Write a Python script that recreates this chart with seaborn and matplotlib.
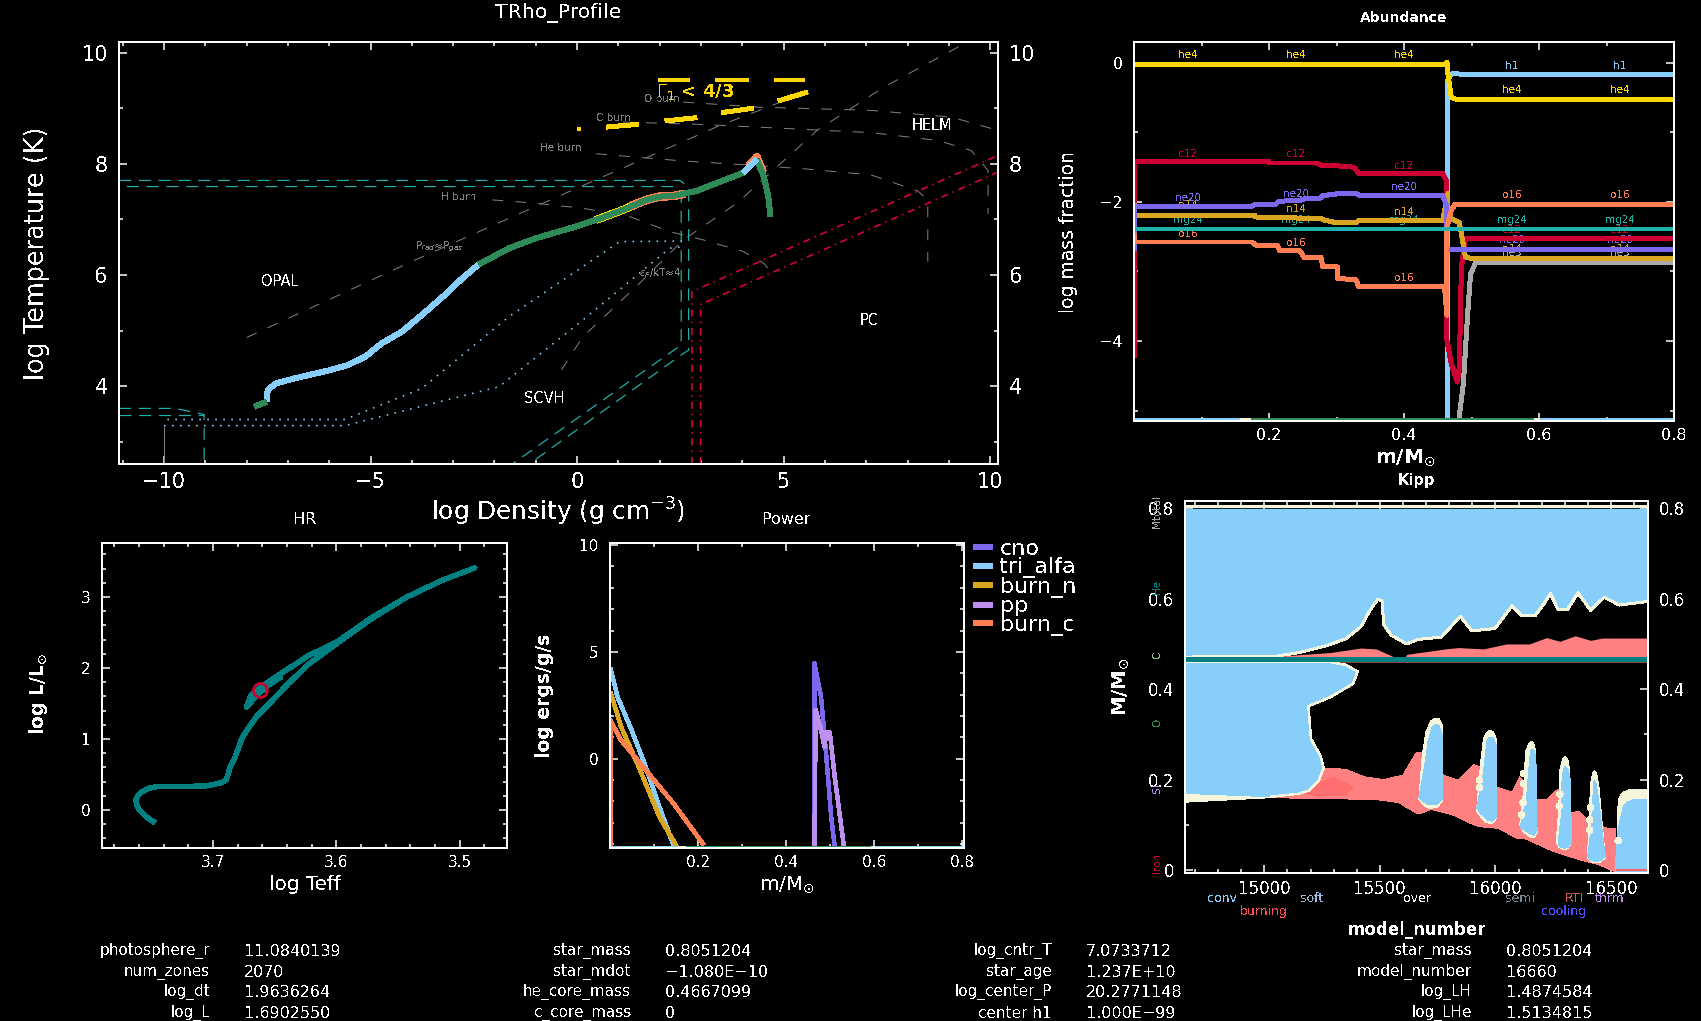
import numpy as np
import matplotlib
matplotlib.use("Agg")
import matplotlib.pyplot as plt
from matplotlib.ticker import MultipleLocator, FuncFormatter
import seaborn as sns

W, H = 1701, 1021

# colours used by the pgstar panels
BLUE = "#87CEFA"
GOLD = "#FFD700"
RED = "#CC0033"
PURPLE = "#7B68EE"
GOLDEN = "#DAA520"
SEATEAL = "#20B2AA"
CORAL = "#FF7F50"
LGRAY = "#A9A9A9"
GREEN = "#2E8B57"
TEAL = "#008080"
CREAM = "#F5F5DC"
VIOLET = "#BF8FEF"
PINK = "#FF8080"

# ---- TRho panel ----
track_env_in_x = [-7.81, -7.52]
track_env_in_y = [3.63, 3.72]
track_blue_x = [-7.52, -7.49, -7.29, -6.84, -6.03, -5.54, -5.13, -4.73, -4.24, -3.76, -3.11, -2.78, -2.38]
track_blue_y = [3.72, 3.93, 4.05, 4.14, 4.28, 4.38, 4.53, 4.77, 4.98, 5.28, 5.70, 5.94, 6.19]
track_green_x = [-2.38, -1.65, -1.0, -0.03, 0.46, 1.11, 1.68, 2.0, 2.33, 2.89, 3.54, 4.03]
track_green_y = [6.19, 6.48, 6.66, 6.87, 6.99, 7.17, 7.35, 7.41, 7.42, 7.51, 7.70, 7.84]
track_tip_x = [4.03, 4.35]
track_tip_y = [7.84, 8.08]
track_core_x = [4.35, 4.52, 4.63, 4.68]
track_core_y = [8.08, 7.77, 7.41, 7.05]
burn_yellow_x = [0.46, 1.11, 1.68]
burn_yellow_y = [6.99, 7.17, 7.35]
burn_coral_x = [1.3, 1.68, 2.0, 2.33, 2.6]
burn_coral_y = [7.24, 7.35, 7.41, 7.42, 7.46]
tip_coral_x = [4.15, 4.35, 4.5]
tip_coral_y = [7.95, 8.12, 7.85]

h_burn_x = [-2.05, -1.0, 0.14, 1.27, 2.24, 3.06, 4.03, 4.52, 4.76]
h_burn_y = [7.35, 7.29, 7.20, 7.05, 6.78, 6.63, 6.42, 6.21, 6.0]
he_burn_x = [0.46, 2.57, 3.87, 5.49, 7.11, 8.25, 8.49, 8.49]
he_burn_y = [8.18, 8.05, 7.99, 7.91, 7.80, 7.51, 7.35, 6.24]
c_burn_x = [1.11, 2.89, 4.35, 7.11, 8.73, 9.54, 9.95, 9.95]
c_burn_y = [8.75, 8.71, 8.66, 8.56, 8.42, 8.24, 7.88, 7.10]
o_burn_x = [2.57, 4.35, 7.11, 9.06, 10.19]
o_burn_y = [9.11, 9.02, 8.96, 8.84, 8.60]
prad_x = [-8.0, -3.92, -0.19, 3.46, 5.56]
prad_y = [4.875, 6.27, 7.50, 8.69, 9.29]
psi_x = [-0.38, 0.14, 1.43, 2.57, 3.87, 5.81, 7.43, 9.3]
psi_y = [4.29, 4.89, 5.79, 6.63, 7.29, 8.6, 9.38, 10.13]

opal_a_x = [-11.09, 2.49, 2.70, 2.70, 2.52, -1.16]
opal_a_y = [7.70, 7.70, 7.58, 4.65, 4.56, 2.6]
opal_b_x = [-10.9, 2.33, 2.52, 2.52, -1.57]
opal_b_y = [7.59, 7.59, 7.47, 4.74, 2.6]
opal_c_x = [-11.09, -9.72, -9.03, -9.03]
opal_c_y = [3.6, 3.6, 3.49, 2.6]
opal_d_x = [-11.09, -9.03]
opal_d_y = [3.49, 3.49]

scvh_a_x = [-9.92, -5.62, -3.76, -1.65, 1.03, 2.57]
scvh_a_y = [3.40, 3.40, 3.96, 5.25, 6.60, 6.61]
scvh_b_x = [-10.0, -5.62, -1.89, 0.14, 2.24, 2.57]
scvh_b_y = [3.29, 3.29, 3.99, 5.19, 6.48, 6.51]
scvh_edge_x = [-10.0, -10.0]
scvh_edge_y = [3.29, 2.6]

pc_a_x = [2.78, 2.78, 10.19]
pc_a_y = [2.6, 5.70, 8.15]
pc_b_x = [2.99, 2.99, 10.19]
pc_b_y = [2.6, 5.47, 7.85]

gamma_x = [[0.0, 0.10], [0.72, 1.48], [2.13, 2.90], [3.50, 4.27], [4.87, 5.58],
           [1.97, 2.74], [3.34, 4.15], [4.76, 5.52]]
gamma_y = [[8.62, 8.62], [8.66, 8.71], [8.77, 8.83], [8.92, 9.0], [9.13, 9.29],
           [9.50, 9.50], [9.50, 9.50], [9.50, 9.50]]

# ---- Abundance panel ----
h1_x = [0.465, 0.465, 0.47, 0.8]
h1_y = [-5.15, -0.25, -0.16, -0.165]
he4_x = [0.0, 0.46, 0.4637, 0.465, 0.47, 0.476, 0.8]
he4_y = [-0.02, -0.02, 0.01, -0.15, -0.49, -0.52, -0.52]
he3_x = [0.481, 0.488, 0.494, 0.4986, 0.5066, 0.8]
he3_y = [-5.15, -4.61, -3.65, -3.03, -2.87, -2.87]
c12_x = [0.0005, 0.0005, 0.2, 0.201, 0.27, 0.277, 0.30, 0.326, 0.333, 0.4575, 0.4637, 0.4637, 0.47, 0.479, 0.482, 0.485, 0.491, 0.8]
c12_y = [-4.23, -1.42, -1.42, -1.44, -1.44, -1.47, -1.48, -1.50, -1.59, -1.59, -1.71, -3.99, -4.33, -4.59, -4.37, -2.94, -2.53, -2.52]
ne20_x = [0.0005, 0.0005, 0.172, 0.1785, 0.209, 0.215, 0.246, 0.252, 0.274, 0.28, 0.304, 0.329, 0.335, 0.4575, 0.4637, 0.4637, 0.8]
ne20_y = [-2.70, -2.07, -2.07, -2.04, -2.04, -1.99, -1.976, -1.957, -1.957, -1.909, -1.88, -1.88, -1.909, -1.909, -2.07, -2.686, -2.68]
n14_x = [0.0005, 0.0005, 0.1785, 0.18, 0.277, 0.283, 0.30, 0.329, 0.333, 0.4575, 0.465, 0.465, 0.482, 0.485, 0.491, 0.5, 0.8]
n14_y = [-2.02, -2.19, -2.19, -2.216, -2.24, -2.264, -2.30, -2.30, -2.264, -2.264, -1.88, -2.216, -2.30, -2.456, -2.79, -2.815, -2.815]
mg24_x = [0.0, 0.8]
mg24_y = [-2.39, -2.39]
o16_x = [0.0005, 0.0005, 0.175, 0.18, 0.212, 0.2165, 0.246, 0.252, 0.277, 0.28, 0.302, 0.302, 0.329, 0.333, 0.46, 0.4637, 0.4637, 0.47, 0.476, 0.8]
o16_y = [-2.456, -2.576, -2.576, -2.62, -2.62, -2.705, -2.705, -2.80, -2.80, -2.935, -2.935, -3.10, -3.12, -3.22, -3.22, -3.63, -2.36, -2.12, -2.03, -2.03]

label_x = [0.08, 0.24, 0.40, 0.56, 0.72]
he4_lab = [0.11, 0.11, 0.11, -0.39, -0.39]
c12_lab = [-1.31, -1.31, -1.48, -2.41, -2.41]
ne20_lab = [-1.94, -1.88, -1.78, -2.55, -2.55]
n14_lab = [-2.05, -2.1, -2.15, -2.67, -2.67]
mg24_lab = [-2.26, -2.26, -2.26, -2.26, -2.26]
o16_lab = [-2.46, -2.585, -3.10, -1.90, -1.90]
h1_lab = [-0.04, -0.04]
he3_lab = [-2.74, -2.74]

# mixing strip along the bottom of the profile panels
strip_edges = [0.0, 0.157, 0.173, 0.592, 0.602, 0.8]
strip_colors = [BLUE, CREAM, GREEN, CREAM, BLUE]

# ---- HR panel ----
hr_teff = [3.747, 3.7517, 3.7557, 3.7596, 3.762, 3.7625, 3.7608, 3.7568, 3.7517, 3.7443, 3.7244, 3.7045, 3.693, 3.689,
           3.686, 3.682, 3.676, 3.665, 3.653, 3.639, 3.622, 3.6, 3.571, 3.5427, 3.514, 3.4876, 3.514, 3.5427, 3.571,
           3.6, 3.622, 3.645, 3.659, 3.669, 3.673, 3.664, 3.655, 3.645, 3.655, 3.662]
hr_lum = [-0.178, -0.127, -0.07, 0.0, 0.07, 0.14, 0.21, 0.267, 0.309, 0.333, 0.328, 0.342, 0.384, 0.431,
          0.61, 0.75, 1.03, 1.31, 1.52, 1.78, 2.06, 2.34, 2.70, 3.0, 3.235, 3.41, 3.235, 3.0, 2.71,
          2.36, 2.18, 1.92, 1.76, 1.62, 1.45, 1.62, 1.76, 1.87, 1.80, 1.69]
hr_now_teff = [3.662]
hr_now_lum = [1.69]

# ---- Power panel ----
cno_x = [0.464, 0.464, 0.479, 0.491, 0.502, 0.51]
cno_y = [-4.18, 4.46, 2.9, 0.09, -2.71, -4.12]
tri_x = [0.001, 0.017, 0.049, 0.081, 0.112, 0.144]
tri_y = [4.23, 2.9, 1.34, -0.37, -2.25, -4.04]
burnn_x = [0.001, 0.025, 0.065, 0.112, 0.152]
burnn_y = [3.14, 1.5, -0.37, -2.71, -4.12]
pp_x = [0.464, 0.467, 0.479, 0.487, 0.491, 0.499, 0.51, 0.531]
pp_y = [-4.18, 2.28, 1.34, 0.56, 1.26, 1.23, -0.84, -4.12]
burnc_x = [0.001, 0.001, 0.025, 0.081, 0.144, 0.213]
burnc_y = [-4.18, 1.8, 0.87, -0.53, -2.09, -4.04]

# ---- Kipp panel ----
env_model = [14659, 15053, 15152, 15268, 15351, 15418, 15459, 15492, 15509, 15517, 15550, 15616, 15666, 15766, 15807,
             15848, 15898, 15998, 16031, 16072, 16113, 16172, 16205, 16238, 16271, 16312, 16357, 16412, 16470, 16536, 16660]
env_mass = [0.471, 0.473, 0.481, 0.496, 0.511, 0.538, 0.576, 0.599, 0.595, 0.542, 0.519, 0.5, 0.51, 0.515, 0.538,
            0.561, 0.529, 0.534, 0.557, 0.584, 0.563, 0.563, 0.585, 0.611, 0.576, 0.576, 0.613, 0.574, 0.603, 0.586, 0.594]
core_model = [14657, 15285, 15351, 15404, 15384, 15285, 15191, 15202, 15244, 15257, 15235, 15194, 15152, 15028, 14657]
core_mass = [0.460, 0.460, 0.454, 0.439, 0.412, 0.382, 0.3626, 0.290, 0.252, 0.225, 0.198, 0.176, 0.169, 0.162, 0.1695]
core_over_model = [14657, 15028, 14657]
core_over_mass = [0.1695, 0.160, 0.150]
burn_up_model = [15028, 15152, 15194, 15257, 15351, 15434, 15517, 15600, 15658, 15679, 15716, 15774, 15840, 15906,
                 15931, 16006, 16072, 16105, 16130, 16180, 16221, 16271, 16321, 16362, 16395, 16478, 16520]
burn_up_mass = [0.162, 0.169, 0.176, 0.225, 0.223, 0.206, 0.200, 0.210, 0.260, 0.260, 0.221, 0.210, 0.198, 0.233,
                0.229, 0.183, 0.172, 0.206, 0.191, 0.156, 0.156, 0.179, 0.126, 0.130, 0.111, 0.093, 0.092]
burn_lo_model = [15028, 15484, 15583, 15616, 15666, 15724, 15815, 15906, 15931, 16014, 16097, 16130, 16246, 16362, 16445, 16520]
burn_lo_mass = [0.160, 0.156, 0.149, 0.138, 0.124, 0.134, 0.122, 0.1, 0.096, 0.092, 0.069, 0.069, 0.042, 0.023, 0.012, -0.004]
burn_dark_model = [15180, 15240, 15300, 15385, 15351, 15230]
burn_dark_mass = [0.170, 0.192, 0.206, 0.183, 0.166, 0.163]
shell_model = [15036, 15285, 15418, 15484, 15567, 15600, 15616, 15782, 15840, 15948, 16047, 16147, 16221, 16279, 16345, 16412, 16461, 16660]
shell_top = [0.472, 0.481, 0.491, 0.489, 0.470, 0.462, 0.477, 0.489, 0.492, 0.489, 0.500, 0.500, 0.514, 0.506, 0.518, 0.508, 0.513, 0.513]
shell_bottom = [0.460] * 18
top_over_model = [14657, 16660]
top_over_lo = [0.80, 0.80]
top_over_hi = [0.808, 0.808]
he_core_model = [14657, 16660]
he_core_mass = [0.4666, 0.4666]

blob_cream = [
    ([15741, 15757, 15769, 15771, 15749, 15716, 15690, 15669, 15683, 15699, 15720],
     [0.336, 0.334, 0.321, 0.153, 0.139, 0.136, 0.142, 0.157, 0.252, 0.305, 0.330]),
    ([15976, 15992, 16003, 16006, 15985, 15956, 15930, 15918, 15936, 15948, 15960],
     [0.309, 0.305, 0.29, 0.115, 0.103, 0.105, 0.122, 0.130, 0.237, 0.29, 0.304]),
    ([16155, 16165, 16173, 16180, 16168, 16150, 16118, 16105, 16122, 16130, 16142],
     [0.284, 0.282, 0.265, 0.084, 0.072, 0.073, 0.085, 0.1, 0.176, 0.26, 0.278]),
    ([16301, 16313, 16321, 16329, 16315, 16299, 16275, 16263, 16274, 16279, 16290],
     [0.252, 0.245, 0.222, 0.061, 0.048, 0.045, 0.05, 0.061, 0.138, 0.222, 0.245]),
    ([16428, 16437, 16448, 16475, 16457, 16437, 16412, 16399, 16403, 16412, 16420],
     [0.22, 0.215, 0.183, 0.027, 0.018, 0.016, 0.018, 0.027, 0.1, 0.191, 0.213]),
    ([16522, 16531, 16540, 16553, 16575, 16602, 16660, 16660],
     [0.0, 0.153, 0.165, 0.172, 0.177, 0.178, 0.178, -0.005]),
]
blob_blue = [
    ([15741, 15757, 15769, 15771, 15749, 15716, 15690, 15669, 15696, 15708, 15725],
     [0.322, 0.319, 0.300, 0.157, 0.146, 0.144, 0.15, 0.161, 0.237, 0.283, 0.315]),
    ([15973, 15990, 16004, 16006, 15985, 15964, 15935, 15919, 15948, 15956, 15963],
     [0.294, 0.293, 0.275, 0.119, 0.108, 0.111, 0.125, 0.138, 0.214, 0.252, 0.283]),
    ([16155, 16167, 16175, 16180, 16168, 16150, 16120, 16108, 16135, 16143, 16150],
     [0.267, 0.265, 0.25, 0.088, 0.077, 0.08, 0.09, 0.096, 0.161, 0.214, 0.255]),
    ([16301, 16314, 16324, 16329, 16315, 16299, 16280, 16271, 16287, 16287, 16293],
     [0.229, 0.222, 0.2, 0.061, 0.051, 0.048, 0.051, 0.058, 0.13, 0.191, 0.22]),
    ([16428, 16436, 16445, 16475, 16457, 16437, 16412, 16399, 16412, 16420, 16424],
     [0.199, 0.19, 0.161, 0.029, 0.021, 0.019, 0.021, 0.031, 0.084, 0.138, 0.19]),
    ([16519, 16525, 16535, 16553, 16570, 16594, 16660, 16660],
     [-0.004, 0.07, 0.10, 0.14, 0.15, 0.155, 0.155, -0.005]),
]
dots_model = [15931, 15931, 16122, 16122, 16119, 16113, 16279, 16276, 16412, 16408, 16408, 16531]
dots_mass = [0.199, 0.183, 0.214, 0.191, 0.149, 0.122, 0.168, 0.141, 0.138, 0.111, 0.088, 0.065]

# text block at the bottom of the window
col1_names = ["photosphere_r", "num_zones", "log_dt", "log_L"]
col1_vals = ["11.0840139", "2070", "1.9636264", "1.6902550"]
col2_names = ["star_mass", "star_mdot", "he_core_mass", "c_core_mass"]
col2_vals = ["0.8051204", "\u22121.080E\u221210", "0.4667099", "0"]
col3_names = ["log_cntr_T", "star_age", "log_center_P", "center h1"]
col3_vals = ["7.0733712", "1.237E+10", "20.2771148", "1.000E\u221299"]
col4_names = ["star_mass", "model_number", "log_LH", "log_LHe"]
col4_vals = ["0.8051204", "16660", "1.4874584", "1.5134815"]
row_y = [951, 972, 992, 1013]

sns.set_theme(style="dark", rc={
    "figure.facecolor": "black",
    "axes.facecolor": "black",
    "savefig.facecolor": "black",
    "axes.edgecolor": "white",
    "axes.linewidth": 1.1,
    "axes.grid": False,
    "text.color": "white",
    "axes.labelcolor": "white",
    "xtick.color": "white",
    "ytick.color": "white",
    "text.antialiased": False,
    "lines.antialiased": False,
    "patch.antialiased": False,
    "lines.solid_capstyle": "butt",
    "lines.dash_capstyle": "butt",
})
plt.rcParams["font.family"] = ["DejaVu Sans"]

fig = plt.figure(figsize=(W / 100, H / 100), dpi=100)
PX = 0.72  # one pixel in points


def panel(left, top, right, bottom):
    return fig.add_axes([left / W, 1 - bottom / H, (right - left) / W, (bottom - top) / H])


def line(ax, x, y, color, px=5, ls="-", z=3, aa=False):
    sns.lineplot(x=x, y=y, sort=False, estimator=None, color=color, linewidth=px * PX,
                 linestyle=ls, ax=ax, legend=False, zorder=z, antialiased=aa)


def ticks(ax, xmaj, xmin, ymaj, ymin, size, right_labels=False, xpad=6):
    ax.xaxis.set_major_locator(MultipleLocator(xmaj))
    ax.xaxis.set_minor_locator(MultipleLocator(xmin))
    ax.yaxis.set_major_locator(MultipleLocator(ymaj))
    ax.yaxis.set_minor_locator(MultipleLocator(ymin))
    ax.tick_params(which="major", direction="in", length=6, width=1.1, top=True, right=True, bottom=True, left=True,
                   labelsize=size, labelright=right_labels, pad=8)
    ax.tick_params(axis="x", which="major", pad=xpad)
    ax.tick_params(which="minor", direction="in", length=3, width=1.1, top=True, right=True, bottom=True, left=True)
    ax.set_xlabel("")
    ax.set_ylabel("")
    for sp in ax.spines.values():
        sp.set_zorder(20)


def label(x, y, s, size=11, color="white", **kw):
    kw.setdefault("ha", "center")
    kw.setdefault("va", "center")
    fig.text(x / W, 1 - y / H, s, fontsize=size, color=color, **kw)


def plain(v, pos=None):
    if abs(v) < 1e-9:
        return "0"
    return ("%g" % v).replace("-", "\u2212")


# ---- TRho ----
ax = panel(119, 42, 998, 464)
GRAY = "#808080"
THIN = 1.0
for bx, by in [(h_burn_x, h_burn_y), (he_burn_x, he_burn_y), (c_burn_x, c_burn_y), (o_burn_x, o_burn_y),
               (prad_x, prad_y), (psi_x, psi_y)]:
    line(ax, bx, by, GRAY, px=THIN, ls=(0, (11, 12)), z=2, aa=True)
line(ax, scvh_edge_x, scvh_edge_y, GRAY, px=THIN, z=2, aa=True)
for bx, by in [(opal_a_x, opal_a_y), (opal_b_x, opal_b_y), (opal_c_x, opal_c_y), (opal_d_x, opal_d_y)]:
    line(ax, bx, by, SEATEAL, px=1.2, ls=(0, (10, 6.5)), z=2, aa=True)
for bx, by in [(scvh_a_x, scvh_a_y), (scvh_b_x, scvh_b_y)]:
    line(ax, bx, by, BLUE, px=1.6, ls=(0, (1, 4)), z=2, aa=True)
for bx, by in [(pc_a_x, pc_a_y), (pc_b_x, pc_b_y)]:
    line(ax, bx, by, "#E00038", px=1.6, ls=(0, (4.5, 3, 1, 3)), z=2, aa=True)
for gx, gy in zip(gamma_x, gamma_y):
    line(ax, gx, gy, GOLD, px=4, z=4)
line(ax, burn_yellow_x, burn_yellow_y, GOLD, px=7, z=4)
line(ax, burn_coral_x, burn_coral_y, CORAL, px=7.5, z=4)
line(ax, tip_coral_x, tip_coral_y, CORAL, px=7, z=4)
line(ax, track_blue_x, track_blue_y, BLUE, z=5)
line(ax, track_env_in_x, track_env_in_y, GREEN, z=5)
line(ax, track_green_x, track_green_y, GREEN, z=5)
line(ax, track_core_x, track_core_y, GREEN, z=5)
line(ax, track_tip_x, track_tip_y, BLUE, z=6)
ax.set_xlim(-11.09, 10.19)
ax.set_ylim(2.6, 10.19)
ticks(ax, 5, 1, 2, 1, 15, right_labels=True, xpad=6)
ax.xaxis.set_major_formatter(FuncFormatter(plain))
ax.yaxis.set_major_formatter(FuncFormatter(plain))

label(558, 13, "TRho_Profile", 14.7)
label(37, 253, "log Temperature (K)", 18.4, rotation=90)
label(558, 512, r"log Density (g cm$^{-3}$)", 17.8)
label(280, 282, "OPAL", 10.5)
label(544, 398, "SCVH", 10.5)
label(869, 320, "PC", 10.5)
label(932, 126, "HELM", 10.5)
label(662, 99, "O burn", 7.5, GRAY)
label(613, 118, "C burn", 7.5, GRAY)
label(561, 148, "He burn", 7.5, GRAY)
label(459, 197, "H burn", 7.5, GRAY)
label(439, 247, r"P$_{rad}$≈P$_{gas}$", 7.5, GRAY)
label(660, 273, r"$\epsilon_F$/kT≈4", 7.5, GRAY)
label(695, 92, r"$\Gamma_1$ < 4/3", 13, GOLD, fontweight="bold", zorder=10)

# ---- Abundance ----
ax = panel(1134, 42, 1674, 421)
abund_lines = [(h1_x, h1_y, BLUE), (he4_x, he4_y, GOLD), (he3_x, he3_y, LGRAY), (c12_x, c12_y, RED),
               (n14_x, n14_y, GOLDEN), (ne20_x, ne20_y, PURPLE), (o16_x, o16_y, CORAL), (mg24_x, mg24_y, SEATEAL)]
for ax_x, ax_y, col in abund_lines:
    line(ax, ax_x, ax_y, col, px=4)
for name, ys, xs, col in [("he4", he4_lab, label_x, GOLD), ("c12", c12_lab, label_x, RED),
                          ("ne20", ne20_lab, label_x, PURPLE), ("n14", n14_lab, label_x, GOLDEN),
                          ("mg24", mg24_lab, label_x, SEATEAL), ("o16", o16_lab, label_x, CORAL),
                          ("h1", h1_lab, label_x[3:], BLUE), ("he3", he3_lab, label_x[3:], LGRAY)]:
    for lx, ly in zip(xs, ys):
        ax.text(lx, ly, name, color=col, fontsize=7.5, ha="center", va="center", zorder=2)
for a, b, col in zip(strip_edges[:-1], strip_edges[1:], strip_colors):
    line(ax, [a, b], [-5.12, -5.12], col, px=3, z=6)
ax.set_xlim(0.0, 0.8)
ax.set_ylim(-5.15, 0.3)
ticks(ax, 0.2, 0.1, 2, 1, 11.5, xpad=5)
ax.set_xticks([0.2, 0.4, 0.6, 0.8])
ax.yaxis.set_major_formatter(FuncFormatter(plain))
label(1404, 18, "Abundance", 10, fontweight="bold")
label(1069, 232, "log mass fraction", 13.5, rotation=90)
label(1406, 458, r"m/M$_{\odot}$", 14.5, fontweight="bold")

# ---- HR ----
ax = panel(102, 543, 507, 848)
line(ax, hr_teff, hr_lum, TEAL, px=4.5)
sns.lineplot(x=hr_now_teff, y=hr_now_lum, marker="o", markersize=10, markerfacecolor="none",
             markeredgecolor=RED, markeredgewidth=2, estimator=None, ax=ax, legend=False, zorder=7)
ax.set_xlim(3.79, 3.4615)
ax.set_ylim(-0.535, 3.76)
ticks(ax, 0.1, 0.02, 1, 0.2, 11, xpad=5)
ax.yaxis.set_major_formatter(FuncFormatter(plain))
label(305, 520, "HR", 11.5)
label(305, 884, "log Teff", 14.3)
label(38, 694, r"log L/L$_{\odot}$", 13.5, rotation=90, fontweight="bold")

# ---- Power ----
ax = panel(610, 543, 964, 848)
for pname, px_, py_, col in [("cno", cno_x, cno_y, PURPLE), ("tri_alfa", tri_x, tri_y, BLUE),
                             ("burn_n", burnn_x, burnn_y, GOLDEN), ("pp", pp_x, pp_y, VIOLET),
                             ("burn_c", burnc_x, burnc_y, CORAL)]:
    sns.lineplot(x=px_, y=py_, sort=False, estimator=None, color=col, linewidth=3.5 * PX, ax=ax, label=pname, zorder=3)
for a, b, col in zip(strip_edges[:-1], strip_edges[1:], strip_colors):
    line(ax, [a, b], [-4.12, -4.12], col, px=3, z=6)
ax.set_xlim(0.0, 0.8035)
ax.set_ylim(-4.18, 10.1)
ticks(ax, 0.2, 0.1, 5, 1, 11, xpad=5)
ax.set_xticks([0.2, 0.4, 0.6, 0.8])
ax.yaxis.set_major_formatter(FuncFormatter(plain))
leg = ax.legend(loc="upper left", bbox_to_anchor=((973 - 610) / 354, 1.014), frameon=False, fontsize=16,
                labelspacing=-0.065, handlelength=0.9, handletextpad=0.3, borderpad=0, borderaxespad=0,
                labelcolor="white")
for lh in leg.get_lines():
    lh.set_linewidth(3)
label(787, 520, "Power", 11.5)
label(787, 885, r"m/M$_{\odot}$", 14.5)
label(544, 696, "log ergs/g/s", 13.5, rotation=90, fontweight="bold")

# ---- Kipp ----
ax = panel(1185, 501.4, 1648, 873)
ax.fill_between(top_over_model, top_over_lo, top_over_hi, color=CREAM, lw=0, zorder=2)
ax.fill_between(env_model, env_mass, [0.80] * len(env_mass), color=BLUE, lw=0, zorder=2)
line(ax, env_model, env_mass, CREAM, px=2, z=3)
ax.fill_between(shell_model, shell_bottom, shell_top, color=PINK, lw=0, zorder=2)
ax.fill(burn_up_model + burn_lo_model[::-1], burn_up_mass + burn_lo_mass[::-1], color=PINK, lw=0, zorder=2)
ax.fill(burn_dark_model, burn_dark_mass, color="#FF6F6F", lw=0, zorder=2)
ax.fill(core_over_model, core_over_mass, color=CREAM, lw=0, zorder=3)
ax.fill(core_model, core_mass, color=BLUE, lw=0, zorder=3)
line(ax, core_model[:-1], core_mass[:-1], CREAM, px=1.5, z=4)
for (bx, by), (cx, cy) in zip(blob_cream, blob_blue):
    ax.fill(bx, by, color=CREAM, lw=0, zorder=4)
    ax.fill(cx, cy, color=BLUE, lw=0, zorder=5)
sns.scatterplot(x=dots_model, y=dots_mass, color=CREAM, s=22, edgecolor="none", ax=ax, legend=False, zorder=6)
line(ax, he_core_model, he_core_mass, TEAL, px=5, z=7)
line(ax, [16520, 16660], [0.0, 0.0], "#FF6060", px=1.5, z=6)
ax.set_xlim(14657, 16660)
ax.set_ylim(-0.0066, 0.8153)
ticks(ax, 500, 100, 0.2, 0.1, 12, right_labels=True, xpad=5)
ax.yaxis.set_major_formatter(FuncFormatter(plain))
label(1416, 480, "Kipp", 10.5, fontweight="bold")
label(1121, 687, r"M/M$_{\odot}$", 14, rotation=90, fontweight="bold")
label(1417, 929.5, "model_number", 12, fontweight="bold")
for tx, ty, s, col in [(1222, 898.5, "conv", BLUE), (1312, 898.5, "soft", "#A0B8D8"), (1417, 898.5, "over", "white"),
                       (1520, 898.5, "semi", "#778899"), (1574, 898.5, "RTI", "#CD5C5C"), (1610, 898.5, "thrm", VIOLET),
                       (1264, 911, "burning", "#FF4D4D"), (1564, 911, "cooling", "#4D4DFF")]:
    label(tx, ty, s, 9, col)
for ty, s, col in [(511.5, "Mtotal", LGRAY), (587, "He", TEAL), (654, "C", "#8FBC8F"), (721.5, "O", GREEN),
                   (788, "Si", VIOLET), (863, "Iron", RED)]:
    label(1157, ty, s, 7.5, col, rotation=90)

# ---- text columns ----
for names, vals, xn, xv in [(col1_names, col1_vals, 210, 244), (col2_names, col2_vals, 631, 665),
                            (col3_names, col3_vals, 1052, 1086), (col4_names, col4_vals, 1472, 1506)]:
    for yy, n, v in zip(row_y, names, vals):
        label(xn, yy, n, 11, ha="right")
        label(xv, yy, v, 11.5, ha="left")

fig.savefig("out.png", dpi=100, facecolor="black")
